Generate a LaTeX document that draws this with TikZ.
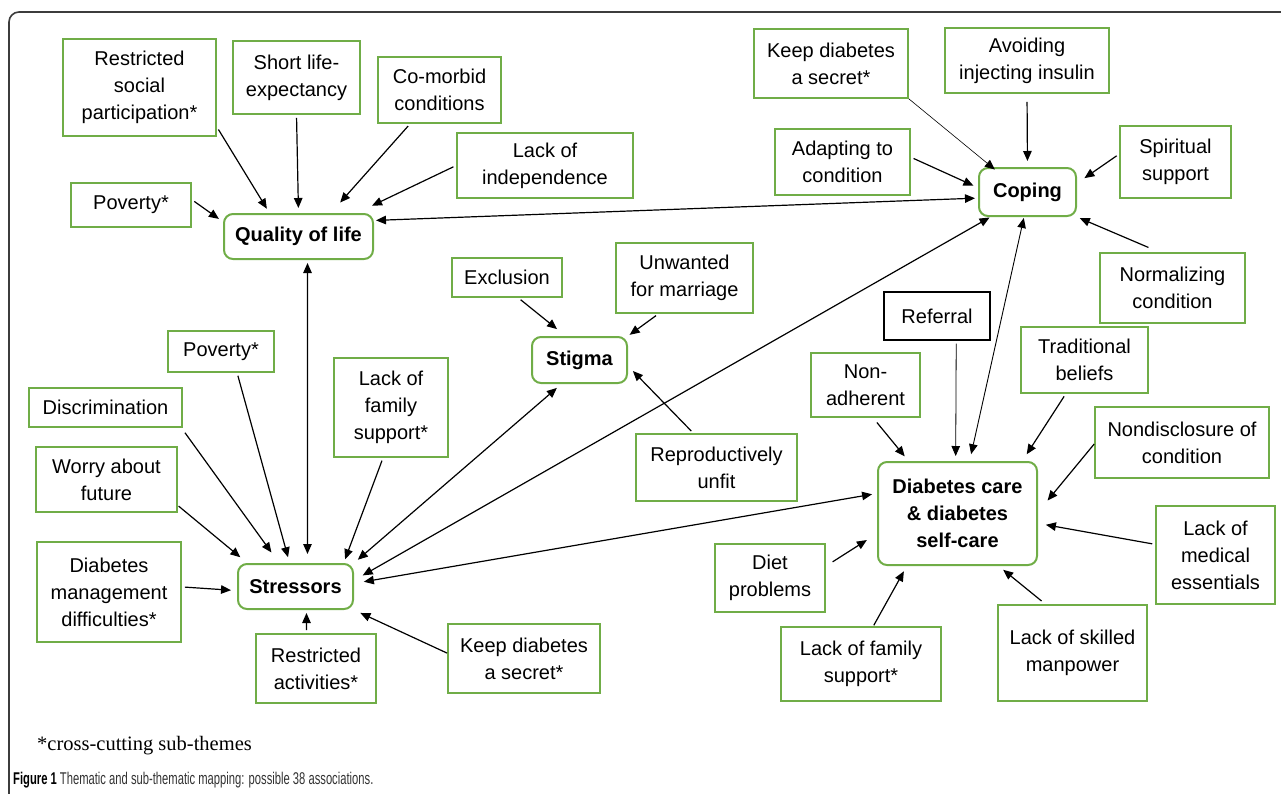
\documentclass[tikz,border=0pt]{standalone}
\usepackage{fontspec}
\usepackage{graphicx}
\setmainfont{Liberation Sans}
\newfontfamily\notefont{Liberation Serif}
\usetikzlibrary{arrows.meta}
\definecolor{subgreen}{RGB}{112,173,71}
\definecolor{framegray}{RGB}{60,60,60}

\begin{document}
\begin{tikzpicture}[x=1pt, y=-1pt,
    every node/.style={font=\fontsize{20}{27}\selectfont, align=center, inner sep=0pt},
    sub/.style 2 args={draw=subgreen, line width=1.7pt, minimum width=#1pt, minimum height=#2pt},
    theme/.style 2 args={draw=subgreen, line width=2pt, rounded corners=9pt,
        font=\fontsize{20}{27}\selectfont\bfseries, minimum width=#1pt, minimum height=#2pt},
    arr/.style={-{Triangle[length=10pt,width=8.5pt]}, line width=1.2pt, shorten >=5pt, shorten <=3pt},
    link/.style={{Triangle[length=10pt,width=8.5pt]}-{Triangle[length=10pt,width=8.5pt]}}]
\useasboundingbox (0,0) rectangle (1281,793);
\draw[framegray, line width=1.6pt, rounded corners=10pt] (9,820) -- (9,12) -- (1300,12);

% themes
\draw   (298.5,236.5) node[theme={149}{45}](qol){Quality of life}
        (1027.5,192) node[theme={97}{48}](cop){Coping}
        (579.5,360) node[theme={95}{46}](stg){Stigma}
        (957.5,513.5) node[theme={159}{103}](dc){Diabetes care\\\& diabetes\\self-care}
        (295.5,586.5) node[theme={115}{45}](str){Stressors};

% quality of life
\draw   (139.5,87.5) node[sub={153}{97}](rsp){Restricted\\social\\participation*}
        (296.5,77.5) node[sub={127}{73}](sle){Short life-\\expectancy}
        (439.5,90) node[sub={123}{66}](cmc){Co-morbid\\conditions}
        (545,165.5) node[sub={176}{65}](loi){Lack of\\independence}
        (131,205) node[sub={120}{44}](pov1){Poverty*};

% coping
\draw   (831,63.5) node[sub={154}{69}](kds1){Keep diabetes\\a secret*}
        (1027,60.5) node[sub={164}{65}](aii){Avoiding\\injecting insulin}
        (842.5,162) node[sub={135}{66}](atc){Adapting to\\condition}
        (1175.5,162) node[sub={111}{72}](ssp){Spiritual\\support}
        (1172.5,288) node[sub={145}{70}](nc){Normalizing\\condition};

% stigma
\draw   (507,277.5) node[sub={110}{39}](exc){Exclusion}
        (684.5,278) node[sub={137}{70}](ufm){Unwanted\\for marriage}
        (716.5,467.5) node[sub={161}{67}](ru){Reproductively\\unfit};

% diabetes care
\draw   (937,316) node[draw, line width=1.2pt, minimum width=106pt, minimum height=48pt](ref){Referral}
        (865.5,385) node[sub={109}{64}](nad){Non-\\adherent}
        (1084.5,360) node[sub={127}{66}](trb){Traditional\\beliefs}
        (1182,442.5) node[sub={174}{71}](ndc){Nondisclosure of\\condition}
        (1215.5,555) node[sub={119}{98}](lme){Lack of\\medical\\essentials}
        (770,578) node[sub={110}{68}](dp){Diet\\problems}
        (861,664) node[sub={160}{74}](lfs2){Lack of family\\support*}
        (1072.5,653) node[sub={149}{96}](lsm){Lack of skilled\\manpower};

% stressors
\draw   (221,351.5) node[sub={106}{41}](pov2){Poverty*}
        (105.5,407.5) node[sub={153}{39}](dis){Discrimination}
        (106.5,479.5) node[sub={141}{65}](waf){Worry about\\future}
        (391,407.5) node[sub={114}{99}](lfs1){Lack of\\family\\support*}
        (109,592) node[sub={144}{100}](dmd){Diabetes\\management\\difficulties*}
        (316,668.5) node[sub={120}{69}](ra){Restricted\\activities*}
        (524,658.5) node[sub={152}{69}](kds2){Keep diabetes\\a secret*};

\path[arr]
    (rsp.-27) edge (qol.141)
    (sle.south) edge (qol.north)
    (cmc.229) edge[shorten >=14pt] (qol.36)
    (loi.west) edge[shorten >=17pt] (qol.22)
    (pov1.5) edge (qol.169)
    (kds1.south east) edge[line width=0.6pt, shorten >=-4pt, shorten <=0pt] (cop.145)
    (aii.south) edge[shorten <=8pt, shorten >=6pt] (cop.north)
    (atc.4) edge (cop.175)
    (ssp.172) edge[shorten >=9pt] (cop.10)
    (nc.110) edge[shorten <=12pt, shorten >=3pt] (cop.south east)
    (exc.-61) edge[shorten >=11pt] (stg.120)
    (ufm.234) edge[shorten >=2pt] (stg.north east)
    (ru.124) edge[shorten >=7pt] (stg.-7)
    (nad.-77) edge[shorten <=6pt, shorten >=6pt] (dc.133)
    (ref.-52) edge[line width=0.8pt] (dc.92)
    (trb.241) edge[shorten >=8pt] (dc.39)
    (ndc.181) edge[shorten >=15pt, shorten <=0pt] (dc.1)
    (lme.170) edge[shorten >=8pt] (dc.-7)
    (dp.12) edge[shorten <=8pt, shorten >=12pt] (dc.194)
    (lfs2.72) edge[shorten <=1pt, shorten >=6pt] (dc.226)
    (lsm.119) edge[shorten <=5pt, shorten >=6pt] (dc.-52)
    (waf.-20) edge[shorten <=1pt, shorten >=9pt] (str.154)
    (dis.-15) edge[shorten <=6pt, shorten >=13pt] (str.125)
    (pov2.-53) edge[shorten >=6pt] (str.104)
    (lfs1.261) edge[shorten >=4pt] (str.26)
    (dmd.4) edge[shorten >=6pt] (str.184)
    (ra.105) edge[shorten >=3pt] (str.-65)
    (kds2.176) edge[shorten <=0pt, shorten >=7pt] (str.south east);

\path[arr, link]
    (qol.12) edge[shorten <=2pt, shorten >=3pt] (cop.187)
    (qol.-69) edge[shorten >=9pt] (str.63)
    (cop.214) edge[shorten <=1pt, shorten >=10pt] (str.6)
    (cop.262) edge[line width=0.9pt, shorten <=1pt, shorten >=7pt] (dc.77)
    (str.north east) edge[shorten <=5pt, shorten >=6pt] (stg.233)
    (str.3) edge[shorten <=10pt, shorten >=5pt] (dc.166);

\node[anchor=base west, font=\notefont\fontsize{20.5}{24}\selectfont] (note) at (37,750) {*cross-cutting sub-themes};
\node[anchor=base west, font=\fontsize{17}{20}\selectfont, text=black!80] (cap) at (13,784)
    {\scalebox{0.66}[1]{\textbf{\color{black}Figure 1} Thematic and sub-thematic mapping: possible 38 associations.}};
\end{tikzpicture}
\end{document}
